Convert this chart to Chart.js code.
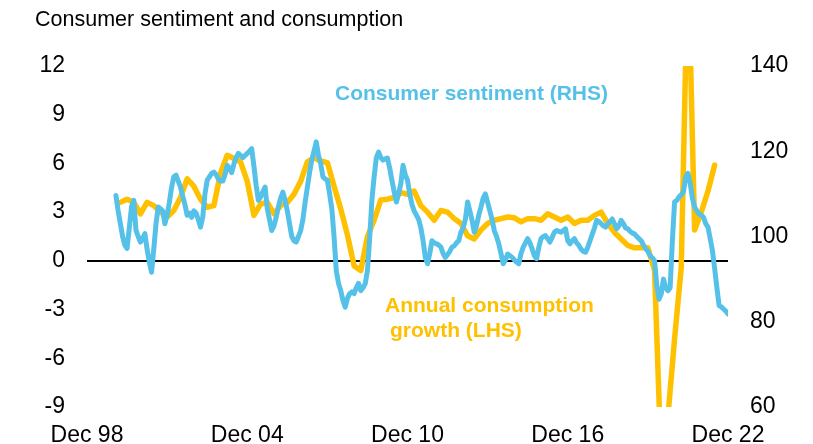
<!DOCTYPE html>
<html><head><meta charset="utf-8">
<script src="https://cdn.jsdelivr.net/npm/chart.js@4/dist/chart.umd.min.js"></script>
<style>html,body{margin:0;padding:0;background:#fff}canvas{display:block}</style>
</head><body>
<canvas id="c" width="813" height="444"></canvas>
<script>
// ---- text ----
const subtitle = 'Consumer sentiment and consumption';
const sentimentLabel = 'Consumer sentiment (RHS)';
const consumptionLabel = ['Annual consumption', 'growth (LHS)'];

// ---- axes (x in months since Dec 1998) ----
const xTickMonths = [0, 72, 144, 216, 288];
const xTickLabels = ['Dec 98', 'Dec 04', 'Dec 10', 'Dec 16', 'Dec 22'];
const leftTicks = [-9, -6, -3, 0, 3, 6, 9, 12];
const rightTicks = [60, 80, 100, 120, 140];

// ---- consumer sentiment, monthly, Jan 2000 .. Dec 2022 (RHS) ----
const sentimentStart = 13;
const sentiment = [
  109.6,106.0,103.0,100.0,98.0,97.2,102.0,107.0,108.5,101.5,100.0,98.7,
  99.5,100.7,97.0,94.0,91.6,97.0,103.0,106.9,106.5,106.0,103.0,105.0,
  108.0,111.5,114.0,114.4,113.0,111.6,109.5,107.5,105.0,105.5,104.5,106.0,
  105.5,104.0,102.2,104.5,110.0,113.2,114.0,114.8,115.1,114.5,113.5,113.0,
  113.0,114.5,116.7,116.0,115.0,117.0,118.5,119.5,119.0,118.5,119.0,119.5,
  120.0,120.6,116.5,112.0,108.5,109.3,110.5,111.6,106.5,104.0,101.4,102.5,
  104.5,107.0,109.0,110.4,108.5,106.0,103.0,100.0,99.0,98.7,100.0,101.4,
  104.0,108.0,111.5,115.0,118.0,120.0,122.2,119.0,117.1,114.0,113.5,113.2,
  110.0,106.5,100.0,92.0,89.0,87.3,85.0,83.4,85.5,86.6,87.0,86.6,
  88.0,89.0,87.3,88.0,88.9,92.0,99.5,108.5,114.0,118.5,119.8,118.5,
  117.9,118.2,118.4,116.0,113.2,110.5,108.1,110.0,112.4,116.7,114.5,113.2,
  110.0,107.5,106.0,105.0,104.0,102.0,99.0,95.1,93.6,96.0,99.0,98.5,
  98.3,98.0,97.5,96.0,95.1,95.8,96.5,97.5,97.8,98.5,99.0,101.0,
  102.0,104.0,108.1,106.0,103.8,101.0,102.5,105.0,106.9,109.0,110.0,108.0,
  106.0,104.0,101.4,100.0,98.3,96.0,93.6,94.5,95.9,95.5,95.1,94.5,
  94.0,93.6,96.0,97.5,98.5,99.5,98.5,97.1,95.5,94.8,97.5,99.5,
  100.0,100.2,99.5,98.7,99.8,101.0,101.4,101.2,101.0,101.4,101.8,99.0,
  98.3,99.0,99.5,98.5,97.9,97.0,96.5,96.3,97.5,99.0,100.5,102.0,
  103.8,103.5,103.0,102.5,102.2,103.0,103.5,104.1,103.0,101.8,102.5,103.8,
  103.0,102.0,101.8,101.2,100.8,100.6,100.0,99.5,99.0,98.0,97.1,96.5,
  95.5,95.0,94.3,88.5,85.3,86.5,90.0,88.0,87.3,88.0,99.0,108.1,
  108.5,109.3,109.8,110.5,114.0,114.8,112.5,109.0,106.9,106.0,105.3,105.0,
  104.5,103.0,102.2,99.5,96.7,92.5,88.0,83.8,83.5,83.0,82.5,81.8
];

// ---- annual consumption growth, quarterly, Mar 2000 .. Jun 2022 (LHS) ----
const consumptionStart = 15;
const consumption = [
  3.6,3.8,3.6,2.9,
  3.6,3.4,3.0,2.7,
  3.1,3.9,5.05,4.6,
  3.8,3.3,3.4,5.4,
  6.5,6.3,6.1,4.9,
  2.8,3.5,3.6,2.9,
  3.4,3.6,4.1,4.9,
  6.1,6.35,6.15,6.05,
  4.6,3.2,1.6,-0.3,
  -0.6,1.5,2.5,3.75,
  3.8,3.9,4.2,4.1,
  4.3,3.4,3.0,2.5,
  3.1,3.0,2.6,2.3,
  1.55,1.35,1.9,2.3,
  2.5,2.6,2.7,2.65,
  2.4,2.6,2.6,2.5,
  2.9,2.7,2.5,2.7,
  2.3,2.5,2.5,2.8,
  3.0,2.3,1.75,1.35,
  0.95,0.8,0.8,0.8,
  -0.6,-12.5,-9.6,-4.8,
  -0.4,19.0,1.9,3.0,
  4.3,5.9
];

const BLUE = '#56C1E8';
const ORANGE = '#FFC000';
const FONT = '"Liberation Sans", Arial, Helvetica, sans-serif';

const sentimentPts = sentiment.map((v, i) => ({x: sentimentStart + i, y: v}));
const consumptionPts = consumption.map((v, i) => ({x: consumptionStart + 3 * i, y: v}));

const textPlugin = {
  id: 'texts',
  afterDraw(chart) {
    const ctx = chart.ctx;
    ctx.save();
    ctx.textBaseline = 'alphabetic';
    ctx.textAlign = 'left';
    ctx.fillStyle = '#000';
    ctx.font = '21.5px ' + FONT;
    ctx.fillText(subtitle, 35, 26);
    ctx.font = 'bold 21px ' + FONT;
    ctx.fillStyle = BLUE;
    ctx.fillText(sentimentLabel, 335, 100);
    ctx.fillStyle = ORANGE;
    ctx.fillText(consumptionLabel[0], 385, 312);
    ctx.fillText(consumptionLabel[1], 390, 337);
    ctx.restore();
  }
};

new Chart(document.getElementById('c'), {
  type: 'line',
  data: {
    datasets: [
      {label: sentimentLabel, data: sentimentPts, yAxisID: 'yR', borderColor: BLUE,
       borderWidth: 5, pointRadius: 0, tension: 0, borderJoinStyle: 'round', borderCapStyle: 'round'},
      {label: consumptionLabel.join(' '), data: consumptionPts, yAxisID: 'yL', borderColor: ORANGE,
       borderWidth: 5.5, pointRadius: 0, tension: 0, borderJoinStyle: 'round', borderCapStyle: 'round'}
    ]
  },
  options: {
    responsive: false,
    animation: false,
    devicePixelRatio: 1,
    layout: {padding: {left: 39, right: 25, top: 66, bottom: 0}},
    plugins: {legend: {display: false}, tooltip: {enabled: false}, title: {display: false}},
    scales: {
      x: {
        type: 'linear', min: xTickMonths[0], max: xTickMonths[xTickMonths.length - 1],
        grid: {display: false}, border: {display: false},
        afterBuildTicks: s => { s.ticks = xTickMonths.map(v => ({value: v})); },
        afterFit: s => { s.height = 37; },
        ticks: {
          color: '#000', padding: 9, maxRotation: 0, autoSkip: false,
          font: {family: FONT, size: 23, lineHeight: 1},
          callback: v => xTickLabels[xTickMonths.indexOf(v)]
        }
      },
      yL: {
        type: 'linear', position: 'left', min: -9, max: 12,
        afterBuildTicks: s => { s.ticks = leftTicks.map(v => ({value: v})); },
        afterFit: s => { s.width = 48; },
        border: {display: false},
        grid: {drawTicks: false, lineWidth: 2,
               color: c => (c.tick && c.tick.value === 0) ? '#000' : 'rgba(0,0,0,0)'},
        ticks: {color: '#000', padding: 22, font: {family: FONT, size: 23}}
      },
      yR: {
        type: 'linear', position: 'right', min: 60, max: 140,
        afterBuildTicks: s => { s.ticks = rightTicks.map(v => ({value: v})); },
        afterFit: s => { s.width = 60; },
        border: {display: false},
        grid: {display: false, drawTicks: false},
        ticks: {color: '#000', padding: 22, font: {family: FONT, size: 23}}
      }
    }
  },
  plugins: [textPlugin]
});
</script>
</body></html>
